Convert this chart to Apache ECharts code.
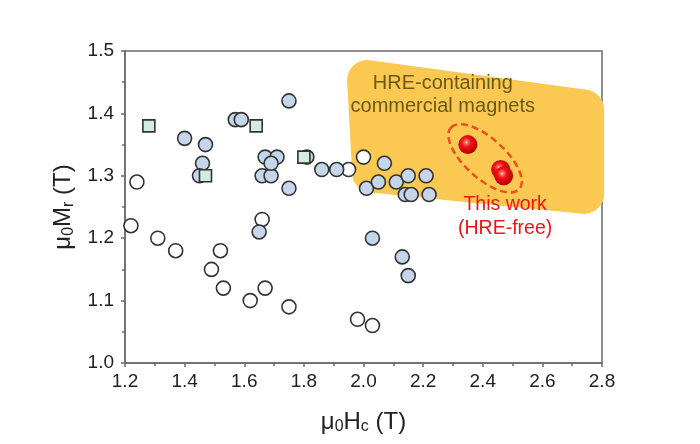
<!DOCTYPE html>
<html>
<head>
<meta charset="utf-8">
<script src="https://cdn.jsdelivr.net/npm/echarts@6/dist/echarts.min.js"></script>
<style>
  html, body { margin: 0; padding: 0; background: #fff; }
  #chart { width: 700px; height: 444px; }
</style>
</head>
<body>
<div id="chart"></div>
<script>
// literature data, [Hc, Mr] in T
var hollowPoints = [[1.22,1.22],[1.24,1.29],[1.31,1.20],[1.37,1.18],[1.49,1.15],[1.52,1.18],[1.53,1.12],
  [1.62,1.10],[1.67,1.12],[1.66,1.23],[1.75,1.09],[1.95,1.31],[2.00,1.33],[1.98,1.07],[2.03,1.06]];
var bluePoints = [[1.40,1.36],[1.47,1.35],[1.46,1.32],[1.45,1.30],[1.57,1.39],[1.59,1.39],[1.75,1.42],
  [1.66,1.30],[1.69,1.30],[1.67,1.33],[1.71,1.33],[1.69,1.32],[1.75,1.28],[1.65,1.21],[1.81,1.33],
  [1.86,1.31],[1.91,1.31],[2.01,1.28],[2.05,1.29],[2.07,1.32],[2.11,1.29],[2.15,1.30],[2.21,1.30],
  [2.14,1.27],[2.16,1.27],[2.22,1.27],[2.03,1.20],[2.13,1.17],[2.15,1.14]];
var squarePoints = [[1.28,1.38],[1.64,1.38],[1.47,1.30],[1.80,1.33]];
var thisWork = [[2.35,1.35],[2.46,1.31],[2.47,1.30]];

// commercial magnets zone (inner outline, rounded by a thick stroke)
var zoneCorners = [[2.012,1.4535],[2.740,1.406],[2.740,1.271],[2.029,1.305]];
var zoneLabelAt = [2.266,1.430];
var workEllipseAt = [2.408,1.328];
var workLabelAt = [2.475,1.234];

var FONT = 'Liberation Sans, Arial, sans-serif';
var LINE = '#6b6b6b';

var chart = echarts.init(document.getElementById('chart'));

function axisName(main, sub, rest) {
  return '{m|' + main + '}{s|' + sub + '}{m|' + rest + '}';
}
var nameRich = {
  m: { fontSize: 24, fontFamily: FONT, color: '#222' },
  s: { fontSize: 16, fontFamily: FONT, color: '#222', verticalAlign: 'bottom', padding: [10, 0, 0, 0] }
};

var option = {
  animation: false,
  grid: {
    left: 125, right: 98, top: 51, bottom: 81,
    show: true, borderColor: LINE, borderWidth: 1.5
  },
  xAxis: {
    type: 'value', min: 1.2, max: 2.8, interval: 0.2,
    name: axisName('μ', '0', 'H') + '{s|c}{m| (T)}',
    nameLocation: 'middle', nameGap: 46,
    nameTextStyle: { rich: nameRich },
    axisLine: { onZero: false, lineStyle: { color: LINE, width: 1.5 } },
    axisTick: { length: 4, lineStyle: { color: LINE, width: 1.5 } },
    minorTick: { show: true, splitNumber: 2, length: 3, lineStyle: { color: LINE, width: 1.5 } },
    splitLine: { show: false },
    axisLabel: { fontSize: 19, fontFamily: FONT, color: '#222', margin: 9,
      formatter: function (v) { return v.toFixed(1); } }
  },
  yAxis: {
    type: 'value', min: 1.0, max: 1.5, interval: 0.1,
    name: axisName('μ', '0', 'M') + '{s|r}{m| (T)}',
    nameLocation: 'middle', nameGap: 31,
    nameTextStyle: { rich: nameRich },
    axisLine: { onZero: false, lineStyle: { color: LINE, width: 1.5 } },
    axisTick: { length: 4, lineStyle: { color: LINE, width: 1.5 } },
    minorTick: { show: true, splitNumber: 2, length: 3, lineStyle: { color: LINE, width: 1.5 } },
    splitLine: { show: false },
    axisLabel: { fontSize: 19, fontFamily: FONT, color: '#222', margin: 11,
      formatter: function (v) { return v.toFixed(1); } }
  },
  series: [
    {
      type: 'custom',
      z: 1,
      data: [0],
      renderItem: function (params, api) {
        var pts = zoneCorners.map(function (p) { return api.coord(p); });
        var lab = api.coord(zoneLabelAt);
        var ec = api.coord(workEllipseAt);
        var wl = api.coord(workLabelAt);
        return {
          type: 'group',
          children: [
            {
              type: 'polygon',
              shape: { points: pts },
              style: { fill: '#fbc952', stroke: '#fbc952', lineWidth: 40, lineJoin: 'round' }
            },
            {
              type: 'text',
              style: {
                text: 'HRE-containing\ncommercial magnets',
                x: lab[0], y: lab[1], align: 'center', verticalAlign: 'middle',
                fill: '#6b5a14', fontSize: 20, fontFamily: FONT, lineHeight: 23
              }
            },
            {
              type: 'ellipse',
              x: ec[0], y: ec[1], rotation: -0.733,
              shape: { cx: 0, cy: 0, rx: 46, ry: 20 },
              style: { fill: 'none', stroke: '#e8521c', lineWidth: 2.5, lineDash: [7, 4] },
              z2: 20
            },
            {
              type: 'text',
              style: {
                text: 'This work\n(HRE-free)',
                x: wl[0], y: wl[1], align: 'center', verticalAlign: 'middle',
                fill: '#ee1414', fontSize: 19.5, fontFamily: FONT, lineHeight: 24
              }
            }
          ]
        };
      }
    },
    {
      type: 'scatter', z: 3, data: hollowPoints, symbol: 'circle', symbolSize: 14,
      itemStyle: { color: '#ffffff', borderColor: '#333', borderWidth: 1.6, opacity: 1 }
    },
    {
      type: 'scatter', z: 3, data: bluePoints, symbol: 'circle', symbolSize: 14,
      itemStyle: { color: '#c5d6ea', borderColor: '#333', borderWidth: 1.6, opacity: 1 }
    },
    {
      type: 'scatter', z: 3, data: squarePoints, symbol: 'rect', symbolSize: 12,
      itemStyle: { color: '#d2ece0', borderColor: '#333', borderWidth: 1.6, opacity: 1 }
    },
    {
      type: 'scatter', z: 4, data: thisWork, symbol: 'circle', symbolSize: 19,
      itemStyle: {
        opacity: 1,
        color: new echarts.graphic.RadialGradient(0.42, 0.38, 0.62, [
          { offset: 0, color: '#ffffff' },
          { offset: 0.12, color: '#ff7070' },
          { offset: 0.4, color: '#f01212' },
          { offset: 1, color: '#b00000' }
        ])
      }
    }
  ]
};

chart.setOption(option);
</script>
</body>
</html>
